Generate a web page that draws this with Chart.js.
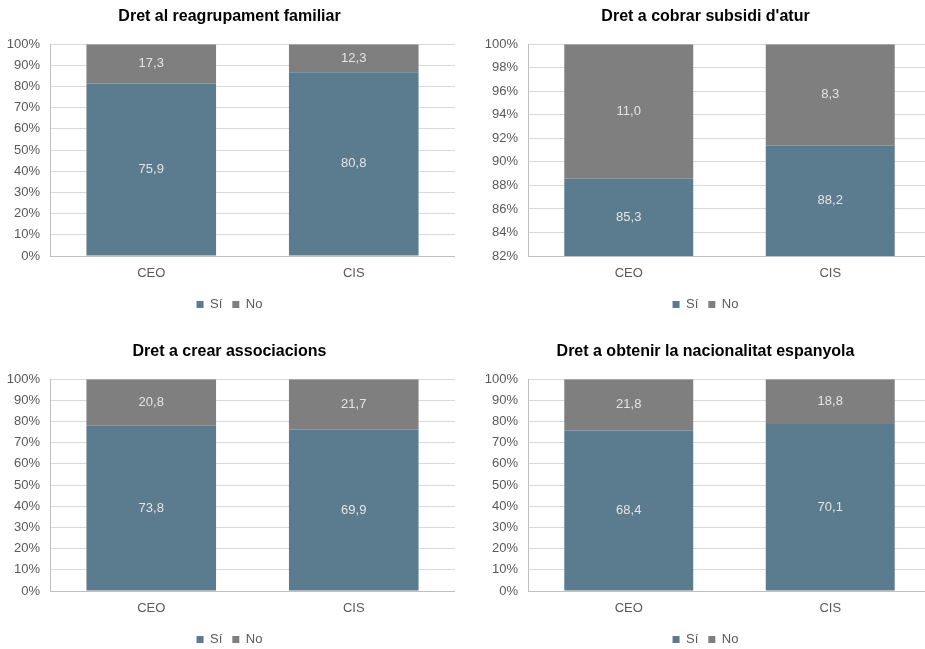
<!DOCTYPE html>
<html>
<head>
<meta charset="utf-8">
<script src="https://cdn.jsdelivr.net/npm/chart.js@4"></script>
<style>
  html, body { margin: 0; padding: 0; background: #fff; overflow: hidden; }
  body { width: 925px; height: 649px; position: relative; }
  .panel { position: absolute; }
</style>
</head>
<body>
<div class="panel" id="p0" style="left:0px;top:0px;width:455px;height:325px"><canvas id="c0"></canvas></div>
<div class="panel" id="p1" style="left:460px;top:0px;width:471px;height:325px"><canvas id="c1"></canvas></div>
<div class="panel" id="p2" style="left:0px;top:335px;width:455px;height:325px"><canvas id="c2"></canvas></div>
<div class="panel" id="p3" style="left:460px;top:335px;width:471px;height:325px"><canvas id="c3"></canvas></div>
<script>
'use strict';

// data (raw survey values, bars are shown as 100% stacked)
const categories = ['CEO', 'CIS'];
const seriesNames = ['Sí', 'No'];
const chartTitles = [
  'Dret al reagrupament familiar',
  "Dret a cobrar subsidi d'atur",
  'Dret a crear associacions',
  'Dret a obtenir la nacionalitat espanyola'
];
const siValues = [[75.9, 80.8], [85.3, 88.2], [73.8, 69.9], [68.4, 70.1]];
const noValues = [[17.3, 12.3], [11.0, 8.3], [20.8, 21.7], [21.8, 18.8]];
const yMins = [0, 82, 0, 0];
const yMaxes = [100, 100, 100, 100];
const ySteps = [10, 2, 10, 10];

const siColor = '#5b7b8e';
const noColor = '#7f7f7f';
const fontFamily = "'Liberation Sans', Arial, sans-serif";
Chart.defaults.font.family = fontFamily;

// left padding and y axis width for left / right column panels
const padLeft = [4, 20, 4, 20];
const yAxisWidth = [46, 48, 46, 48];

// draws the raw value in the middle of the visible part of each bar
const barLabels = {
  id: 'barLabels',
  afterDatasetsDraw(chart) {
    const ctx = chart.ctx;
    const area = chart.chartArea;
    ctx.save();
    ctx.font = '13px ' + fontFamily;
    ctx.fillStyle = '#e4e4e4';
    ctx.textAlign = 'center';
    ctx.textBaseline = 'middle';
    chart.data.datasets.forEach((ds, i) => {
      let meta = chart.getDatasetMeta(i);
      meta.data.forEach((bar, j) => {
        let top = Math.max(Math.min(bar.y, bar.base), area.top);
        let bottom = Math.min(Math.max(bar.y, bar.base), area.bottom);
        let text = ds.rawValues[j].toFixed(1).replace('.', ',');
        ctx.fillText(text, bar.x, (top + bottom) / 2);
      });
    });
    ctx.restore();
  }
};

function makeChart(n) {
  let totals = siValues[n].map((v, j) => v + noValues[n][j]);
  let siShare = siValues[n].map((v, j) => v / totals[j] * 100);
  let noShare = noValues[n].map((v, j) => v / totals[j] * 100);

  let canvas = document.getElementById('c' + n).getContext('2d');
  return new Chart(canvas, {
    type: 'bar',
    data: {
      labels: categories,
      datasets: [{
        label: seriesNames[0],
        data: siShare,
        rawValues: siValues[n],
        backgroundColor: siColor,
        barPercentage: 0.64,
        categoryPercentage: 1
      },
      {
        label: seriesNames[1],
        data: noShare,
        rawValues: noValues[n],
        backgroundColor: noColor,
        barPercentage: 0.64,
        categoryPercentage: 1
      }]
    },
    plugins: [barLabels],
    options: {
      responsive: true,
      maintainAspectRatio: false,
      animation: false,
      devicePixelRatio: 1,
      layout: { padding: { top: 7, left: padLeft[n], right: 0, bottom: 4 } },
      plugins: {
        title: {
          display: true,
          text: chartTitles[n],
          color: '#000',
          font: { size: 16, weight: 'bold' },
          padding: { top: 0, bottom: 18 }
        },
        legend: {
          position: 'bottom',
          labels: {
            boxWidth: 7,
            boxHeight: 7,
            color: '#595959',
            font: { size: 13 },
            padding: 10
          }
        },
        tooltip: { enabled: false }
      },
      scales: {
        x: {
          stacked: true,
          grid: { display: false, drawTicks: false },
          border: { color: '#bfbfbf' },
          ticks: { color: '#595959', font: { size: 13 }, padding: 10 },
          afterFit(scale) { scale.height = 32; }
        },
        y: {
          stacked: true,
          min: yMins[n],
          max: yMaxes[n],
          grid: { color: '#d9d9d9', drawTicks: false },
          border: { color: '#bfbfbf' },
          ticks: {
            stepSize: ySteps[n],
            color: '#595959',
            font: { size: 13 },
            padding: 10,
            callback: (v) => v + '%'
          },
          afterFit(scale) { scale.width = yAxisWidth[n]; }
        }
      }
    }
  });
}

for (let i = 0; i < chartTitles.length; i++) {
  makeChart(i);
}
</script>
</body>
</html>
